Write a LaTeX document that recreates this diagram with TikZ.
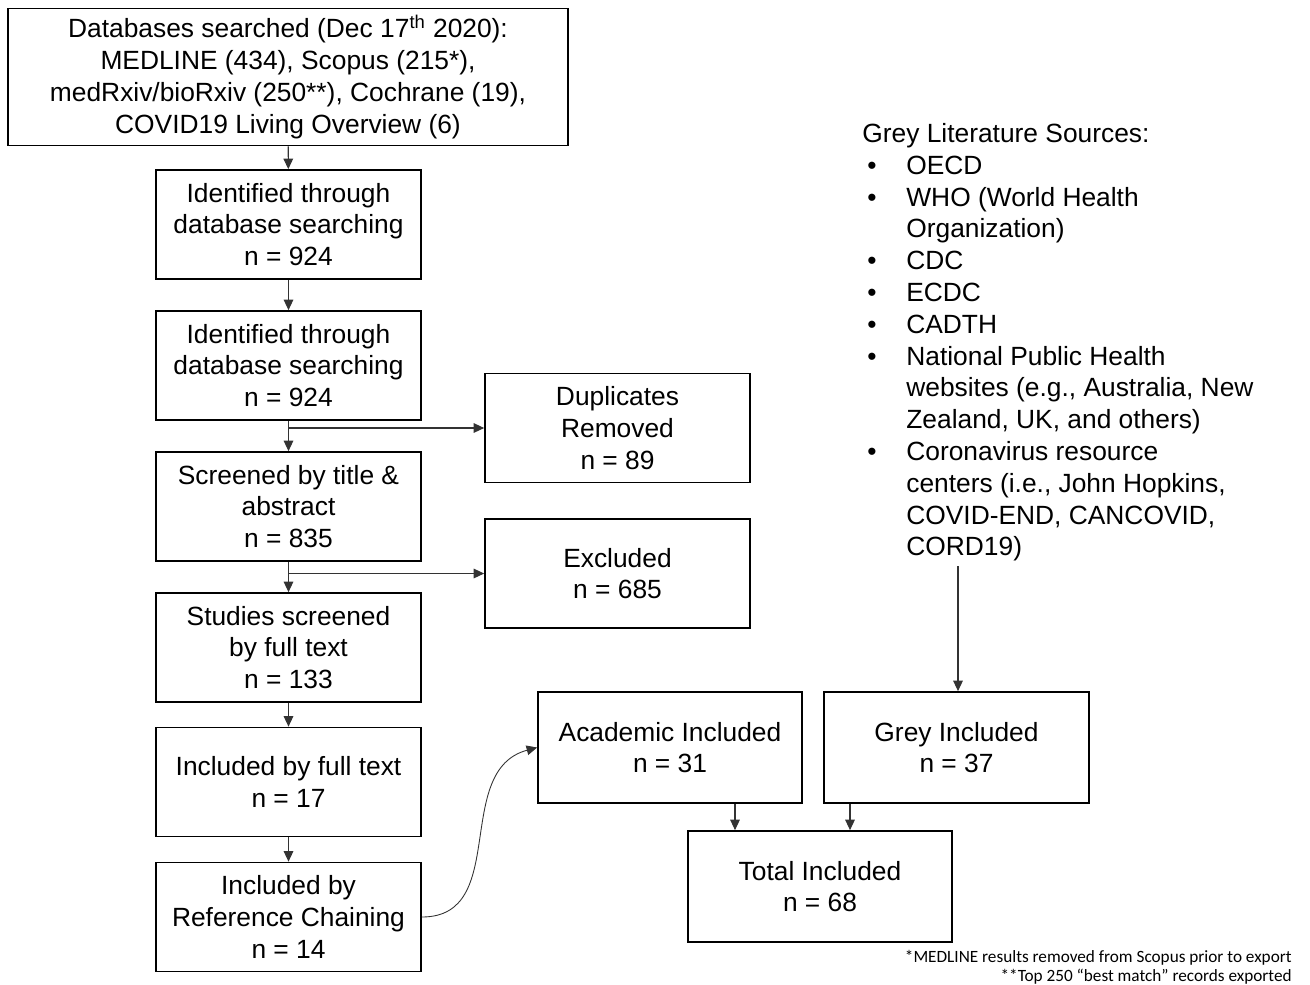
\documentclass[tikz,border=0pt]{standalone}
\usepackage{fontspec}
\setmainfont{Liberation Sans}
\newfontfamily\notafont{Carlito}
\usetikzlibrary{arrows.meta}

\newcommand{\gitem}[1]{\makebox[0.88cm][l]{\hspace{0.1cm}\textbullet}#1}
\newcommand{\gcont}[1]{\hspace{0.88cm}#1}

\begin{document}
\begin{tikzpicture}[x=0.02cm, y=-0.02cm,
    caixa/.style={draw, line width=1pt, align=center, minimum width=5.3cm, minimum height=2.18cm, inner sep=2pt, font=\fontsize{15}{18.1}\selectfont},
    seta/.style={-{Triangle[length=6pt,width=5.5pt]}, line width=0.6pt, draw=black!80}]
        \useasboundingbox (0,0) rectangle (1310,984);

        \node[caixa, minimum width=11.2cm, minimum height=2.74cm] (base) at (288, 77) {Databases searched (Dec 17\textsuperscript{th} 2020):\\MEDLINE (434), Scopus (215*),\\medRxiv/bioRxiv (250**), Cochrane (19),\\COVID19 Living Overview (6)};
        \node[caixa] (id1) at (288.5, 224.5) {Identified through\\database searching\\n = 924};
        \node[caixa] (id2) at (288.5, 365.5) {Identified through\\database searching\\n = 924};
        \node[caixa] (tri) at (288.5, 506.5) {Screened by title \&\\abstract\\n = 835};
        \node[caixa] (full) at (288.5, 647.5) {Studies screened\\by full text\\n = 133};
        \node[caixa] (inc) at (288.5, 782) {Included by full text\\n = 17};
        \node[caixa] (ref) at (288.5, 917) {Included by\\Reference Chaining\\n = 14};
        \node[caixa] (dup) at (617.5, 428) {Duplicates\\Removed\\n = 89};
        \node[caixa] (exc) at (617.5, 573.5) {Excluded\\n = 685};
        \node[caixa, minimum width=5.28cm, minimum height=2.22cm] (acad) at (670, 747.5) {Academic Included\\n = 31};
        \node[caixa, minimum height=2.22cm] (grey) at (956.5, 747.5) {Grey Included\\n = 37};
        \node[caixa, minimum width=5.28cm, minimum height=2.22cm] (total) at (820, 886.5) {Total Included\\n = 68};

        % grey literature
        \node[anchor=north west, align=left, inner sep=0pt, font=\fontsize{15}{18.1}\selectfont] (lista) at (862, 123) {Grey Literature Sources:\\
            \gitem{OECD}\\
            \gitem{WHO (World Health}\\
            \gcont{Organization)}\\
            \gitem{CDC}\\
            \gitem{ECDC}\\
            \gitem{CADTH}\\
            \gitem{National Public Health}\\
            \gcont{websites (e.g., Australia, New}\\
            \gcont{Zealand, UK, and others)}\\
            \gitem{Coronavirus resource}\\
            \gcont{centers (i.e., John Hopkins,}\\
            \gcont{COVID-END, CANCOVID,}\\
            \gcont{CORD19)}};
        \coordinate (fonte) at (958, 566);

        \node[anchor=north east, align=right, inner sep=0pt, font=\notafont\fontsize{9.8}{10.8}\selectfont] (nota) at (1292, 950) {*MEDLINE results removed from Scopus prior to export\\**Top 250 “best match” records exported};

        \draw[seta] (base) -- (id1);
        \draw[seta] (id1) -- (id2);
        \draw[seta] (id2) -- (tri);
        \draw[seta] (tri) -- (full);
        \draw[seta] (full) -- (inc);
        \draw[seta] (inc) -- (ref);
        \draw[seta] (id2.south |- dup) -- (dup.west);
        \draw[seta] (tri.south |- exc) -- (exc.west);
        \draw[seta, line width=0.5pt] (ref.east) to[out=0, in=195, looseness=1.1] (acad.west);
        \draw[seta] (fonte) -- (fonte |- grey.north);
        \coordinate (t1) at (735, 0);
        \coordinate (t2) at (850, 0);
        \draw[seta] (acad.south -| t1) -- (total.north -| t1);
        \draw[seta] (grey.south -| t2) -- (total.north -| t2);
    \end{tikzpicture}
\end{document}
